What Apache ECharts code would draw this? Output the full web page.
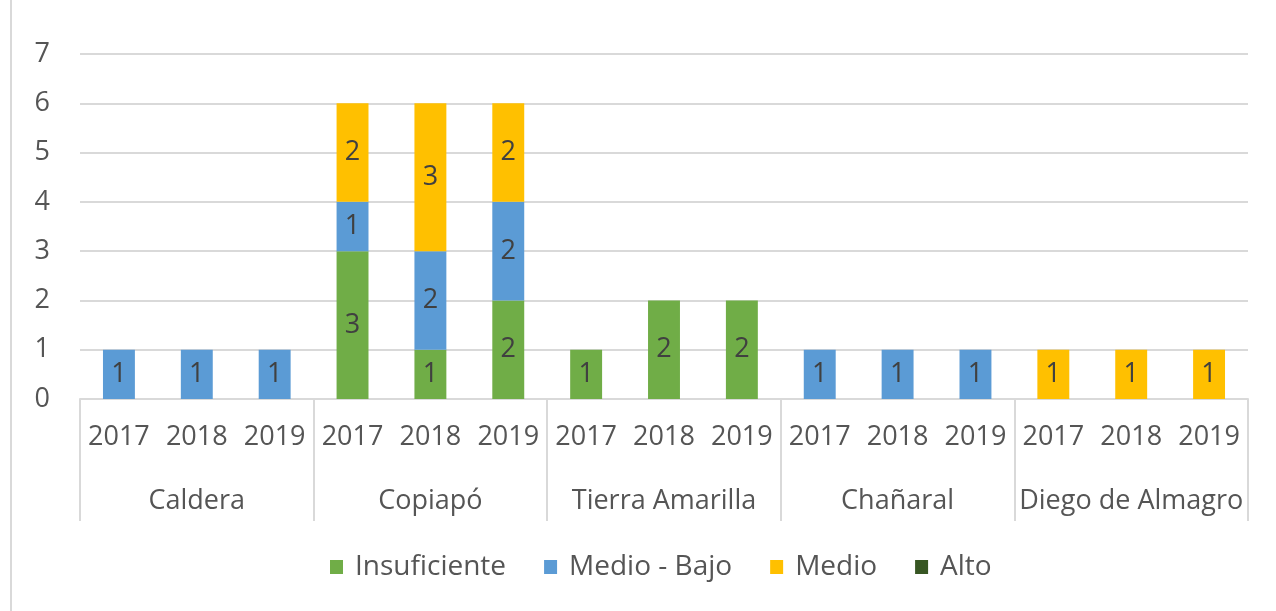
<!DOCTYPE html>
<html><head><meta charset="utf-8">
<script src="https://cdn.jsdelivr.net/npm/echarts@6/dist/echarts.min.js"></script>
<style>html,body{margin:0;padding:0;background:#fff}#c{width:1276px;height:611px}</style>
</head><body><div id="c"></div>
<script>
const years = ['2017','2018','2019','2017','2018','2019','2017','2018','2019','2017','2018','2019','2017','2018','2019'];
const groups = ['Caldera','Copiapó','Tierra Amarilla','Chañaral','Diego de Almagro'];
const yTicks = [0,1,2,3,4,5,6,7];
const insuficiente = [0,0,0, 3,1,2, 1,2,2, 0,0,0, 0,0,0];
const medioBajo    = [1,1,1, 1,2,2, 0,0,0, 1,1,1, 0,0,0];
const medio        = [0,0,0, 2,3,2, 0,0,0, 0,0,0, 1,1,1];
const alto         = [0,0,0, 0,0,0, 0,0,0, 0,0,0, 0,0,0];

const FONT = 'Open Sans';
const TXT = '#555555';
const lbl = {show:true, position:'inside', color:'#404040', fontFamily:FONT, fontSize:27,
  formatter: p => p.value ? String(p.value) : ''};
function ser(name, data, color){
  return {name, type:'bar', stack:'s', data, barWidth:'41%', itemStyle:{color}, label:lbl};
}
const chart = echarts.init(document.getElementById('c'));
chart.setOption({
  animation:false,
  textStyle:{fontFamily:FONT},
  graphic:[{type:'line', shape:{x1:11,y1:0,x2:11,y2:611}, style:{stroke:'#d9d9d9', lineWidth:2}}],
  grid:{left:80, right:28, top:54, bottom:212},
  legend:{bottom:25, left:325, itemWidth:13, itemHeight:14, icon:'rect', itemGap:38,
    textStyle:{color:TXT, fontFamily:FONT, fontSize:28, padding:[0,0,0,7]},
    data:['Insuficiente','Medio - Bajo','Medio','Alto']},
  xAxis:[
    {type:'category', data:years, axisTick:{show:false},
     axisLine:{lineStyle:{color:'#d9d9d9', width:2}},
     axisLabel:{color:TXT, fontFamily:FONT, fontSize:27, margin:25, interval:0}},
    {type:'category', data:groups, position:'bottom', axisLine:{show:false},
     axisTick:{show:true, length:122, lineStyle:{color:'#d9d9d9', width:2}},
     axisLabel:{color:TXT, fontFamily:FONT, fontSize:27, margin:89, interval:0}}
  ],
  yAxis:{type:'value', min:0, max:7, interval:1,
    axisLine:{show:false}, axisTick:{show:false},
    splitLine:{lineStyle:{color:'#d9d9d9', width:2}},
    axisLabel:{color:TXT, fontFamily:FONT, fontSize:27, margin:30,
      formatter: v => yTicks.includes(v) ? String(v) : ''}},
  series:[
    ser('Insuficiente', insuficiente, '#70AD47'),
    ser('Medio - Bajo', medioBajo, '#5B9BD5'),
    ser('Medio', medio, '#FFC000'),
    ser('Alto', alto, '#375623')
  ]
});
</script></body></html>
